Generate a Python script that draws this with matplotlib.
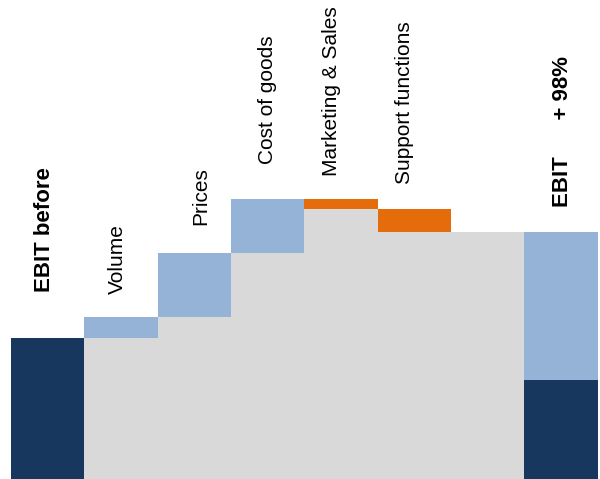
import matplotlib.pyplot as plt
import numpy as np

plt.rcParams['font.family'] = ['Liberation Sans', 'DejaVu Sans']

labels = ['EBIT before', 'Volume', 'Prices', 'Cost of goods', 'Marketing & Sales', 'Support functions', '', 'EBIT      + 98%']
ebit_before = 100
steps = [15, 45, 38, -7, -16]
ebit_old_part = 70

NAVY = '#17375e'
BLUE = '#95b3d7'
ORANGE = '#e46c0a'
GREY = '#d9d9d9'

# label lift above bar top (pixels) and small sideways nudge
label_lift = [46, 23, 28, 35, 23, 25, 0, 25]
label_dx = [-3, -4, 6, 0, -9, -10, 0, 2]

px_per_unit = 1.413

fig = plt.figure(figsize=(6, 4.79), dpi=100)
ax = fig.add_axes([0, 0, 1, 1])
ax.set_xlim(-11/73.33, (600-11)/73.33)
ax.set_ylim(0, 479/px_per_unit)
ax.axis('off')

tops = []
# start bar
ax.bar(0.5, ebit_before, width=1, color=NAVY, linewidth=0)
tops.append(ebit_before)

level = ebit_before
for i, s in enumerate(steps):
	x = i + 1.5
	new = level + s
	low = min(level, new)
	ax.bar(x, low, width=1, color=GREY, linewidth=0)
	ax.bar(x, abs(s), bottom=low, width=1, color=BLUE if s > 0 else ORANGE, linewidth=0)
	tops.append(max(level, new))
	level = new

total = level
# spacer column
ax.bar(6.5, total, width=1, color=GREY, linewidth=0)
tops.append(total)

# end bar
ax.bar(7.5, ebit_old_part, width=1, color=NAVY, linewidth=0)
ax.bar(7.5, total - ebit_old_part, bottom=ebit_old_part, width=1, color=BLUE, linewidth=0)
tops.append(total)

for i, lab in enumerate(labels):
	if lab == '':
		continue
	bold = i == 0 or i == len(labels) - 1
	ax.annotate(lab, (i + 0.5, tops[i]), xytext=(label_dx[i], label_lift[i]),
		textcoords='offset pixels', rotation=90, ha='center', va='bottom',
		fontsize=16 if bold else 15, fontweight='bold' if bold else 'normal',
		color='black')

plt.savefig('out.png', dpi=100)
